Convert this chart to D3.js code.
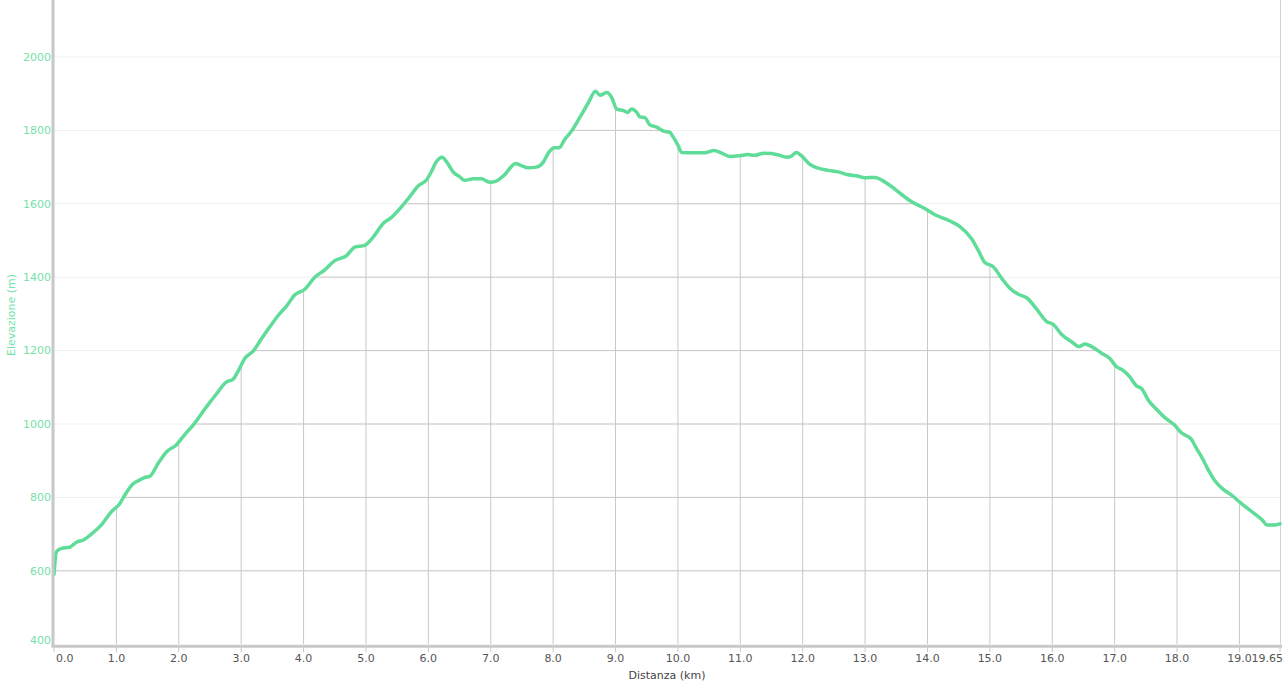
<!DOCTYPE html>
<html><head><meta charset="utf-8">
<script src="https://cdn.jsdelivr.net/npm/d3@7"></script>
<style>
html,body{margin:0;padding:0;background:#fff;}
svg{display:block;font-family:"DejaVu Sans",Verdana,sans-serif;}
</style></head>
<body><svg id="c" width="1285" height="687"></svg>
<script>
const distanceKm = [0.00,0.04,0.12,0.25,0.36,0.47,0.60,0.76,0.92,1.05,1.13,1.26,1.37,1.45,1.54,1.67,1.81,1.96,2.09,2.23,2.44,2.60,2.76,2.87,2.96,3.06,3.20,3.32,3.46,3.60,3.73,3.86,4.02,4.18,4.34,4.50,4.69,4.82,4.98,5.11,5.28,5.41,5.57,5.70,5.84,5.97,6.05,6.13,6.22,6.29,6.40,6.50,6.58,6.72,6.85,6.98,7.09,7.22,7.40,7.49,7.60,7.73,7.84,7.93,8.02,8.10,8.18,8.29,8.43,8.56,8.68,8.75,8.86,8.94,9.02,9.13,9.19,9.26,9.34,9.39,9.47,9.55,9.66,9.77,9.87,9.92,10.00,10.06,10.22,10.43,10.58,10.70,10.83,10.99,11.12,11.23,11.37,11.50,11.63,11.74,11.82,11.90,11.98,12.11,12.25,12.41,12.57,12.73,12.89,12.99,13.15,13.39,13.58,13.74,13.95,14.12,14.36,14.52,14.71,14.82,14.92,15.05,15.19,15.32,15.45,15.59,15.75,15.91,16.01,16.15,16.31,16.43,16.52,16.63,16.79,16.92,17.03,17.13,17.24,17.35,17.43,17.54,17.67,17.80,17.96,18.07,18.23,18.31,18.42,18.50,18.60,18.74,18.87,19.00,19.13,19.27,19.37,19.44,19.56,19.65];
const elevationM = [590,652,661,664,678,684,700,725,761,782,805,836,847,854,858,893,925,943,970,997,1046,1081,1114,1122,1147,1179,1200,1231,1265,1297,1322,1352,1367,1400,1420,1445,1459,1482,1487,1508,1547,1563,1592,1619,1649,1665,1688,1715,1727,1715,1686,1674,1664,1668,1668,1659,1662,1679,1710,1704,1698,1700,1713,1740,1753,1753,1774,1797,1836,1874,1907,1896,1903,1889,1858,1854,1849,1858,1849,1837,1835,1815,1809,1798,1795,1783,1760,1740,1739,1739,1745,1738,1729,1731,1734,1732,1738,1737,1732,1727,1730,1740,1731,1708,1697,1691,1687,1679,1675,1671,1672,1651,1626,1606,1588,1570,1553,1538,1504,1471,1440,1429,1397,1370,1354,1344,1313,1279,1272,1244,1224,1211,1218,1211,1193,1179,1156,1147,1129,1104,1097,1065,1040,1018,997,976,958,934,902,875,847,822,807,788,770,752,738,725,725,728];
const xTicks = [0,1,2,3,4,5,6,7,8,9,10,11,12,13,14,15,16,17,18,19,19.65];
const xTickLabels = ["0.0","1.0","2.0","3.0","4.0","5.0","6.0","7.0","8.0","9.0","10.0","11.0","12.0","13.0","14.0","15.0","16.0","17.0","18.0","19.0","19.65"];
const yTicks = [400,600,800,1000,1200,1400,1600,1800,2000];
const xTitle = "Distanza (km)";
const yTitle = "Elevazione (m)";

const data = distanceKm.map((d,i)=>({x:d,y:elevationM[i]}));
const svg = d3.select("#c");
const L = 54, R = 1280, B = 644.2;
const x = d3.scaleLinear().domain([0,19.65]).range([L,R]);
const y = d3.scaleLinear().domain([400,2000]).range([B,57]);
const green = "#5edc98", labelGreen = "#74e2a8";

// faint horizontal grid everywhere
svg.append("g").selectAll("line").data(yTicks.slice(1)).join("line")
  .attr("x1",L).attr("x2",R).attr("y1",d=>y(d)).attr("y2",d=>y(d))
  .attr("stroke","#f0f0f0").attr("stroke-width",1);

// darker grid clipped to area beneath profile
const area = d3.area().x(d=>x(d.x)).y0(B).y1(d=>y(d.y)).curve(d3.curveMonotoneX);
svg.append("clipPath").attr("id","under").append("path").datum(data).attr("d",area);
const g2 = svg.append("g").attr("clip-path","url(#under)");
g2.selectAll("line.h").data(yTicks.slice(1)).join("line").attr("class","h")
  .attr("x1",L).attr("x2",R).attr("y1",d=>y(d)).attr("y2",d=>y(d))
  .attr("stroke","#c8c8c8").attr("stroke-width",1);
g2.selectAll("line.v").data(xTicks.slice(1,-1)).join("line").attr("class","v")
  .attr("x1",d=>x(d)).attr("x2",d=>x(d)).attr("y1",0).attr("y2",B)
  .attr("stroke","#c8c8c8").attr("stroke-width",1);

// right border
svg.append("line").attr("x1",R+0.5).attr("x2",R+0.5).attr("y1",0).attr("y2",B)
  .attr("stroke","#d4d4d4").attr("stroke-width",1);

// profile line
const line = d3.line().x(d=>x(d.x)).y(d=>y(d.y)).curve(d3.curveMonotoneX);
svg.append("path").datum(data).attr("d",line).attr("fill","none")
  .attr("stroke",green).attr("stroke-width",3.5).attr("stroke-linejoin","round").attr("stroke-linecap","round");

// axes lines
svg.append("line").attr("x1",L-1).attr("x2",L-1).attr("y1",0).attr("y2",B+3)
  .attr("stroke","#c8c8c8").attr("stroke-width",3);
svg.append("line").attr("x1",L-2.5).attr("x2",R+2).attr("y1",B+2).attr("y2",B+2)
  .attr("stroke","#c8c8c8").attr("stroke-width",3);

// x ticks
const xg = svg.append("g");
xg.selectAll("line").data(xTicks).join("line")
  .attr("x1",d=>x(d)).attr("x2",d=>x(d)).attr("y1",B+3).attr("y2",B+8)
  .attr("stroke","#c8c8c8").attr("stroke-width",1);
xg.selectAll("text").data(xTicks).join("text")
  .attr("x",(d,i)=> i===0 ? L+2 : (i===xTicks.length-1 ? R+3 : x(d)))
  .attr("y",B+17.5)
  .attr("text-anchor",(d,i)=> i===0 ? "start" : (i===xTicks.length-1 ? "end" : "middle"))
  .attr("fill","#555").attr("font-size","11px")
  .text((d,i)=>xTickLabels[i]);

// y labels
svg.append("g").selectAll("text").data(yTicks).join("text")
  .attr("x",L-3).attr("y",d=>Math.min(y(d),640)).attr("dy","0.35em")
  .attr("text-anchor","end").attr("fill",labelGreen).attr("font-size","11px")
  .text(d=>d);

// titles
svg.append("text").attr("x",667).attr("y",679).attr("text-anchor","middle")
  .attr("fill","#444").attr("font-size","11px").text(xTitle);
svg.append("text").attr("transform","translate(15,315) rotate(-90)").attr("text-anchor","middle")
  .attr("fill",labelGreen).attr("font-size","11px").text(yTitle);
</script></body></html>
